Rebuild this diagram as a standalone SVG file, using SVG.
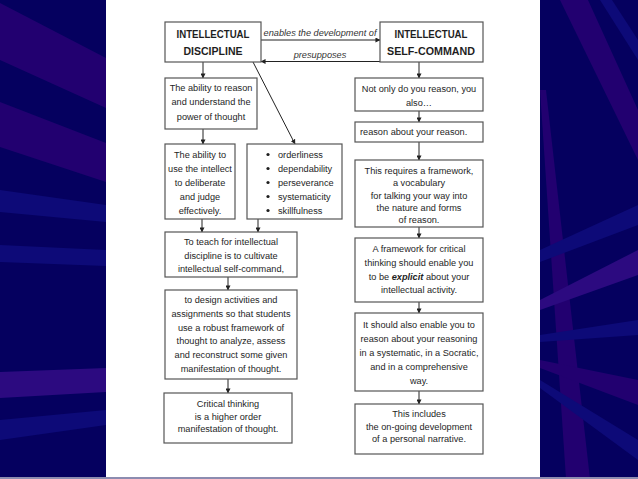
<svg xmlns="http://www.w3.org/2000/svg" width="638" height="479" viewBox="0 0 638 479">
  <style>
    .box { fill: #ffffff; stroke: #555555; stroke-width: 1.2; }
    .t { font-family: "Liberation Sans", Arial, sans-serif; font-size: 9.2px; fill: #1e1e1e; text-anchor: middle; }
    .tl { text-anchor: start; }
    .title { font-family: "Liberation Sans", Arial, sans-serif; font-size: 11.5px; font-weight: bold; fill: #1e1e1e; text-anchor: middle; }
    .lbl { font-family: "Liberation Sans", Arial, sans-serif; font-size: 9.2px; font-style: italic; fill: #333333; text-anchor: middle; }
    .c { stroke: #222222; stroke-width: 1; fill: none; marker-end: url(#ah); }
    .band { fill: #220070; }
    .band2 { fill: #0d0a78; }
    .band3 { fill: #2c0a80; }
  </style>
  <defs>
    <marker id="ah" viewBox="0 0 6 6" refX="5.5" refY="3" markerWidth="5" markerHeight="5" markerUnits="userSpaceOnUse" orient="auto">
      <path d="M0,0 L6,3 L0,6 z" fill="#222222"/>
    </marker>
  </defs>

  <!-- background -->
  <g id="background">
    <rect x="0" y="0" width="638" height="479" fill="#05005f"/>
    <polygon class="band" points="0,3 106,58 106,108 0,60"/>
    <polygon class="band" points="0,102 106,143 106,182 0,147"/>
    <polygon class="band2" points="0,190 106,205 106,222 0,212"/>
    <polygon class="band2" points="0,245 106,250 106,266 0,262"/>
    <polygon class="band3" points="0,372 106,368 106,392 0,398"/>
    <polygon class="band2" points="0,420 106,410 106,425 0,440"/>
    <polygon class="band" points="560,0 588,0 638,110 638,160"/>
    <polygon class="band2" points="600,0 612,0 638,40 638,60"/>
    <polygon class="band" points="540,90 546,90 590,479 566,479"/>
    <polygon class="band2" points="540,250 638,205 638,225 540,262"/>
    <polygon class="band3" points="540,300 638,250 638,275 540,310"/>
    <polygon class="band2" points="540,335 638,320 638,335 540,342"/>
    <polygon class="band" points="540,360 638,380 638,405 540,368"/>
    <polygon class="band2" points="540,380 638,440 638,460 540,388"/>
    <rect x="106" y="0" width="434" height="477" fill="#ffffff"/>
    <rect x="0" y="477" width="638" height="2" fill="#8c8cb0"/>
  </g>

  <!-- connectors -->
  <g id="connectors">
    <line class="c" x1="261" y1="40" x2="380" y2="40"/>
    <line class="c" x1="380" y1="61.5" x2="261" y2="61.5"/>
    <line class="c" x1="203" y1="62" x2="203" y2="78"/>
    <line class="c" x1="253" y1="62" x2="295" y2="144"/>
    <line class="c" x1="203" y1="129" x2="203" y2="144"/>
    <line class="c" x1="202" y1="219" x2="202" y2="232"/>
    <line class="c" x1="258" y1="219" x2="258" y2="232"/>
    <line class="c" x1="228" y1="277" x2="228" y2="290"/>
    <line class="c" x1="228" y1="379" x2="228" y2="393"/>
    <line class="c" x1="419" y1="62" x2="419" y2="78"/>
    <line class="c" x1="419" y1="111" x2="419" y2="122"/>
    <line class="c" x1="419" y1="142" x2="419" y2="160"/>
    <line class="c" x1="419" y1="227" x2="419" y2="238"/>
    <line class="c" x1="419" y1="302" x2="419" y2="313"/>
    <line class="c" x1="419" y1="391" x2="419" y2="404"/>
    <text class="lbl" x="320" y="36">enables the development of</text>
    <text class="lbl" x="320" y="57.5">presupposes</text>
  </g>

  <!-- nodes -->
  <g id="discipline">
    <rect class="box" x="165" y="22" width="96" height="40"/>
    <text class="title" x="213" y="37.5" textLength="73" lengthAdjust="spacingAndGlyphs">INTELLECTUAL</text>
    <text class="title" x="213" y="54.5" textLength="59" lengthAdjust="spacingAndGlyphs">DISCIPLINE</text>
  </g>
  <g id="self-command">
    <rect class="box" x="380" y="22" width="103" height="40"/>
    <text class="title" x="431" y="37.5" textLength="73" lengthAdjust="spacingAndGlyphs">INTELLECTUAL</text>
    <text class="title" x="431" y="54.5" textLength="88" lengthAdjust="spacingAndGlyphs">SELF-COMMAND</text>
  </g>

  <g id="ability-reason">
    <rect class="box" x="165" y="78" width="92" height="51"/>
    <text class="t" x="211" y="90.5">The ability to reason</text>
    <text class="t" x="211" y="105">and understand the</text>
    <text class="t" x="211" y="119.5">power of thought</text>
  </g>
  <g id="ability-intellect">
    <rect class="box" x="165" y="144" width="70" height="75"/>
    <text class="t" x="200" y="157.5">The ability to</text>
    <text class="t" x="200" y="171.5">use the intellect</text>
    <text class="t" x="200" y="185.5">to deliberate</text>
    <text class="t" x="200" y="199.5">and judge</text>
    <text class="t" x="200" y="213.5">effectively.</text>
  </g>
  <g id="qualities">
    <rect class="box" x="247" y="144" width="95" height="75"/>
    <circle cx="268" cy="154.5" r="1.6" fill="#1e1e1e"/>
    <circle cx="268" cy="168.5" r="1.6" fill="#1e1e1e"/>
    <circle cx="268" cy="182.5" r="1.6" fill="#1e1e1e"/>
    <circle cx="268" cy="196.5" r="1.6" fill="#1e1e1e"/>
    <circle cx="268" cy="210.5" r="1.6" fill="#1e1e1e"/>
    <text class="t tl" x="278" y="157.5">orderliness</text>
    <text class="t tl" x="278" y="171.5">dependability</text>
    <text class="t tl" x="278" y="185.5">perseverance</text>
    <text class="t tl" x="278" y="199.5">systematicity</text>
    <text class="t tl" x="278" y="213.5">skillfulness</text>
  </g>
  <g id="teach">
    <rect class="box" x="165" y="232" width="132" height="45"/>
    <text class="t" x="231" y="244.5">To teach for intellectual</text>
    <text class="t" x="231" y="258.5">discipline is to cultivate</text>
    <text class="t" x="231" y="272">intellectual self-command,</text>
  </g>
  <g id="design">
    <rect class="box" x="165" y="290" width="132" height="89"/>
    <text class="t" x="231" y="302.5">to design activities and</text>
    <text class="t" x="231" y="317">assignments so that students</text>
    <text class="t" x="231" y="330.5">use a robust framework of</text>
    <text class="t" x="231" y="344">thought to analyze, assess</text>
    <text class="t" x="231" y="357.5">and reconstruct some given</text>
    <text class="t" x="231" y="372">manifestation of thought.</text>
  </g>
  <g id="critical">
    <rect class="box" x="164" y="393" width="128" height="50"/>
    <text class="t" x="228" y="406.5">Critical thinking</text>
    <text class="t" x="228" y="419.5">is a higher order</text>
    <text class="t" x="228" y="431.5">manifestation of thought.</text>
  </g>

  <g id="not-only">
    <rect class="box" x="355" y="78" width="128" height="33"/>
    <text class="t" x="419" y="91.5">Not only do you reason, you</text>
    <text class="t" x="419" y="105.5">also…</text>
  </g>
  <g id="reason-about">
    <rect class="box" x="355" y="122" width="128" height="20"/>
    <text class="t tl" x="360" y="135">reason about your reason.</text>
  </g>
  <g id="requires">
    <rect class="box" x="355" y="160" width="128" height="67"/>
    <text class="t" x="419" y="173.5">This requires a framework,</text>
    <text class="t" x="419" y="186">a vocabulary</text>
    <text class="t" x="419" y="198.5">for talking your way into</text>
    <text class="t" x="419" y="211">the nature and forms</text>
    <text class="t" x="419" y="223">of reason.</text>
  </g>
  <g id="explicit">
    <rect class="box" x="355" y="238" width="128" height="64"/>
    <text class="t" x="419" y="251.5">A framework for critical</text>
    <text class="t" x="419" y="265.5">thinking should enable you</text>
    <text class="t" x="419" y="279.5">to be <tspan font-weight="bold" font-style="italic">explicit</tspan> about your</text>
    <text class="t" x="419" y="292.5">intellectual activity.</text>
  </g>
  <g id="socratic">
    <rect class="box" x="355" y="313" width="128" height="78"/>
    <text class="t" x="419" y="327.5">It should also enable you to</text>
    <text class="t" x="419" y="341.5">reason about your reasoning</text>
    <text class="t" x="419" y="355.5">in a systematic, in a Socratic,</text>
    <text class="t" x="419" y="369.5">and in a comprehensive</text>
    <text class="t" x="419" y="383.5">way.</text>
  </g>
  <g id="narrative">
    <rect class="box" x="355" y="404" width="128" height="50"/>
    <text class="t" x="419" y="416.5">This includes</text>
    <text class="t" x="419" y="429.5">the on-going development</text>
    <text class="t" x="419" y="441.5">of a personal narrative.</text>
  </g>
</svg>
